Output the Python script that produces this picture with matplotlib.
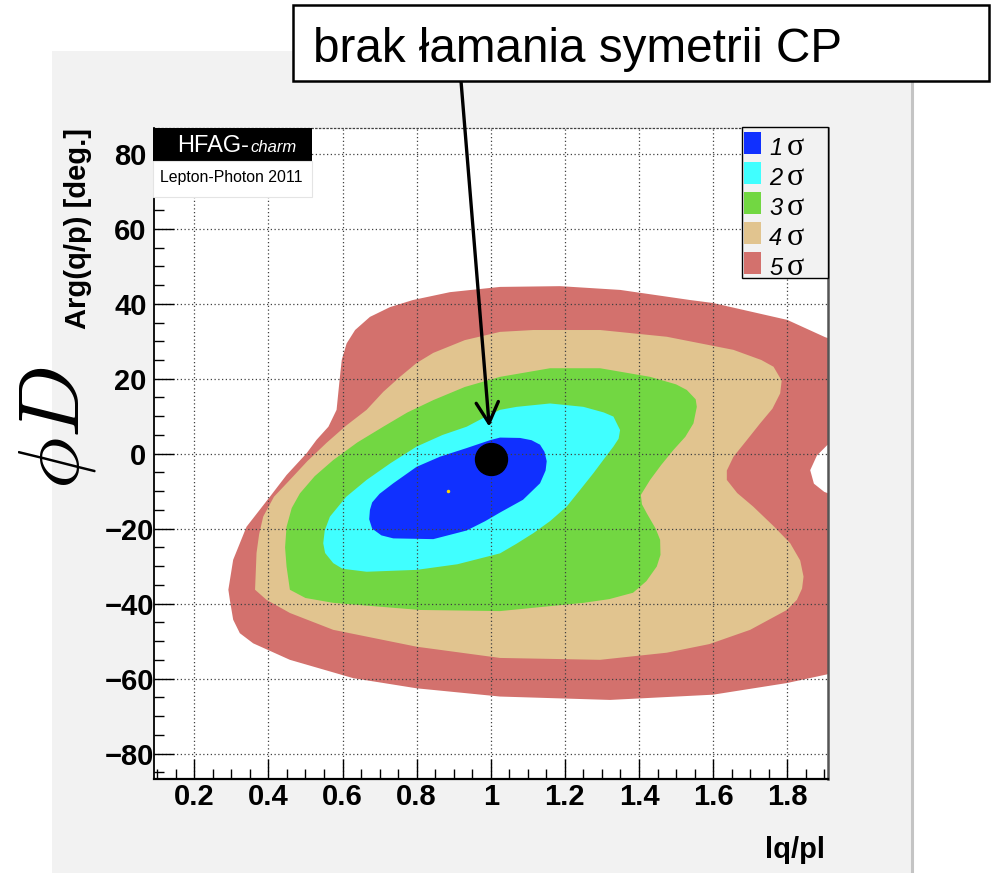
import numpy as np
import matplotlib.pyplot as plt
from matplotlib.patches import Rectangle
from matplotlib.lines import Line2D
from matplotlib.ticker import MultipleLocator
from matplotlib.transforms import ScaledTranslation

plt.rcParams['font.family'] = ['Liberation Sans', 'DejaVu Sans']

W, H = 991, 873

# confidence regions in the (|q/p|, Arg(q/p)) plane, outermost first
sigma_labels = ['1', '2', '3', '4', '5']
sigma_colors = ['#1030ff', '#40ffff', '#72d742', '#e1c48f', '#d3716d']

c5_x = [0.611, 0.634, 0.674, 0.728, 0.790, 0.890, 1.025, 1.187, 1.349, 1.538, 1.600,
        1.800, 1.902, 1.950, 1.950, 1.908, 1.880, 1.862, 1.872, 1.900, 1.950, 1.950,
        1.902, 1.799, 1.600, 1.322, 1.025, 0.800, 0.629, 0.458, 0.359, 0.323, 0.305,
        0.296, 0.292, 0.305, 0.323, 0.341, 0.404, 0.449, 0.503, 0.530, 0.562, 0.584,
        0.593, 0.598]
c5_y = [29.4, 33.0, 36.5, 39.1, 41.0, 43.1, 44.5, 44.7, 43.7, 41.0, 40.2,
        35.7, 31.1, 29.5, 3.5, 2.3, -0.5, -4.4, -8.0, -10.2, -12.0, -58.0,
        -59.0, -61.2, -64.3, -65.7, -64.8, -62.6, -59.9, -55.0, -50.6, -47.9, -44.3,
        -39.0, -36.3, -28.3, -23.9, -19.5, -11.5, -5.7, 0.1, 3.7, 7.2, 11.7,
        20.5, 25.0]

c4_x = [0.364, 0.366, 0.368, 0.375, 0.386, 0.415, 0.458, 0.505, 0.557, 0.610, 0.665,
        0.710, 0.755, 0.800, 0.845, 0.930, 1.025, 1.115, 1.295, 1.475, 1.655, 1.730,
        1.763, 1.785, 1.781, 1.760, 1.727, 1.690, 1.655, 1.637, 1.637, 1.665, 1.708,
        1.765, 1.808, 1.835, 1.844, 1.840, 1.826, 1.799, 1.700, 1.590, 1.475, 1.295,
        1.025, 0.800, 0.575, 0.458, 0.395]
c4_y = [-36.3, -31.5, -26.5, -21.5, -16.8, -11.5, -7.0, -2.0, 2.9, 7.5, 11.7,
        16.5, 20.5, 24.2, 26.9, 30.3, 32.5, 33.0, 33.0, 31.2, 27.7, 25.0,
        23.2, 19.5, 16.1, 12.0, 8.1, 3.5, -0.8, -4.5, -7.0, -10.5, -14.1,
        -19.5, -23.9, -28.5, -32.8, -36.0, -39.0, -41.7, -47.0, -50.8, -53.1, -55.0,
        -54.5, -51.5, -47.0, -42.5, -39.0]

c3_x = [0.458, 0.449, 0.445, 0.449, 0.463, 0.485, 0.525, 0.575, 0.640, 0.710, 0.775,
        0.845, 0.930, 1.025, 1.160, 1.295, 1.430, 1.500, 1.529, 1.553, 1.556, 1.547,
        1.525, 1.493, 1.460, 1.430, 1.405, 1.408, 1.421, 1.445, 1.457, 1.458, 1.448,
        1.420, 1.384, 1.320, 1.250, 1.025, 0.809, 0.575, 0.500]
c3_y = [-36.3, -30.1, -25.0, -19.5, -14.5, -10.6, -6.0, -1.7, 3.0, 7.2, 11.0,
        14.3, 17.8, 20.5, 22.8, 22.8, 20.5, 18.5, 17.0, 14.5, 12.5, 8.1,
        4.5, 1.0, -3.0, -7.0, -11.0, -13.5, -15.9, -20.0, -23.0, -27.0, -30.1,
        -34.0, -37.1, -38.8, -39.8, -42.0, -41.7, -39.8, -38.5]

c2_x = [0.665, 0.600, 0.575, 0.553, 0.548, 0.552, 0.566, 0.610, 0.665, 0.730, 0.800,
        0.870, 0.935, 0.985, 1.025, 1.070, 1.160, 1.250, 1.305, 1.331, 1.349, 1.345,
        1.331, 1.305, 1.277, 1.240, 1.205, 1.160, 1.115, 1.070, 1.025, 0.910, 0.800]
c2_y = [-31.5, -30.7, -29.2, -26.5, -23.9, -20.5, -16.8, -11.5, -7.0, -2.5, 1.9,
        5.0, 7.2, 9.8, 11.7, 12.5, 13.4, 12.5, 11.0, 9.9, 6.3, 4.0,
        1.9, -1.5, -5.2, -9.8, -14.1, -18.0, -21.2, -24.0, -26.6, -29.5, -31.0]

c1_x = [0.674, 0.672, 0.680, 0.705, 0.737, 0.845, 0.935, 0.985, 1.025, 1.087, 1.133,
        1.148, 1.151, 1.145, 1.133, 1.110, 1.079, 1.025, 0.998, 0.935, 0.863, 0.800,
        0.737, 0.700, 0.680]
c1_y = [-15.0, -17.5, -20.0, -21.8, -22.6, -22.8, -20.5, -18.0, -15.7, -12.3, -7.9,
        -4.5, -2.0, 0.5, 2.4, 3.6, 4.2, 4.3, 3.6, 1.5, -0.8, -3.5,
        -7.9, -10.7, -13.0]

contours_x = [c1_x, c2_x, c3_x, c4_x, c5_x]
contours_y = [c1_y, c2_y, c3_y, c4_y, c5_y]

best_fit = (0.885, -10.0)
no_cpv = (1.0, -1.4)

x_ticks = [0.2, 0.4, 0.6, 0.8, 1.0, 1.2, 1.4, 1.6, 1.8]
x_tick_labels = ['0.2', '0.4', '0.6', '0.8', '1', '1.2', '1.4', '1.6', '1.8']
y_ticks = [-80, -60, -40, -20, 0, 20, 40, 60, 80]
y_tick_labels = ['\u221280', '\u221260', '\u221240', '\u221220', '0', '20', '40', '60', '80']


def fx(px):
    return px / W


def fy(py):
    return 1 - py / H


fig = plt.figure(figsize=(W / 100, H / 100), dpi=100)

# grey canvas behind the frame
fig.patches.append(Rectangle((fx(52), 0), fx(912) - fx(52), fy(51), transform=fig.transFigure,
                             facecolor='#f2f2f2', edgecolor='none', zorder=-2))
fig.lines.append(Line2D([fx(912), fx(912)], [0, fy(51)], transform=fig.transFigure,
                        color='#c4c4c4', lw=2.2, zorder=-1))

ax = fig.add_axes([fx(153.5), fy(779), fx(828) - fx(153.5), fy(128) - fy(779)])
ax.set_facecolor('white')

for xs, ys, col in zip(contours_x[::-1], contours_y[::-1], sigma_colors[::-1]):
    ax.fill(xs, ys, color=col, lw=0, zorder=1)

ax.plot(*best_fit, 'o', ms=2.5, color='#ffd400', mec='none', zorder=4)
ax.plot(*no_cpv, 'o', ms=23, color='black', zorder=5)

ax.set_xlim(0.09, 1.91)
ax.set_ylim(-86.8, 86.9)
ax.set_xticks(x_ticks, labels=x_tick_labels, fontsize=21, fontweight='bold')
ax.set_yticks(y_ticks, labels=y_tick_labels, fontsize=21, fontweight='bold')
ax.xaxis.set_minor_locator(MultipleLocator(0.05))
ax.yaxis.set_minor_locator(MultipleLocator(5))
ax.tick_params(which='both', direction='in', top=False, right=False, width=1, color='black')
ax.tick_params(which='major', length=14.4)
ax.tick_params(which='minor', length=7.2)
ax.tick_params(axis='x', pad=3)
ax.tick_params(axis='y', pad=5)

# negative labels sit a bit further right
shift = ScaledTranslation(8 / 100, 0, fig.dpi_scale_trans)
for lbl in ax.get_yticklabels():
    if lbl.get_text().startswith('\u2212'):
        lbl.set_transform(lbl.get_transform() + shift)

ax.grid(True, which='major', color='#404040', linestyle=(0, (1, 2)), linewidth=0.9)
ax.spines['left'].set_linewidth(1.3)
ax.spines['bottom'].set_linewidth(1.6)
ax.spines['right'].set_color('#555555')
ax.spines['right'].set_linewidth(1.8)
ax.spines['top'].set_color('#404040')
ax.spines['top'].set_linestyle((0, (1, 2)))
ax.spines['top'].set_linewidth(0.9)

# axis titles
fig.text(fx(825), fy(858), 'lq/pl', ha='right', va='baseline', fontsize=21, fontweight='bold')
fig.text(fx(78.5), fy(128), 'Arg(q/p) [deg.]', rotation=90, ha='center', va='top',
         fontsize=21, fontweight='bold')
fig.text(fx(58), fy(428), r'$\phi D$', rotation=90, ha='center', va='center',
         fontsize=62, math_fontfamily='cm')

# HFAG stamp
fig.patches.append(Rectangle((fx(152.7), fy(160.7)), fx(311.7) - fx(152.7), fy(128.3) - fy(160.7),
                             transform=fig.transFigure, facecolor='black', edgecolor='none'))
fig.patches.append(Rectangle((fx(152.7), fy(196.7)), fx(311.7) - fx(152.7), fy(160.7) - fy(196.7),
                             transform=fig.transFigure, facecolor='white', edgecolor='#e4e4e4', lw=0.8))
fig.text(fx(176.7), fy(151.7), 'HFAG-', color='white', fontsize=17, va='baseline')
fig.text(fx(250), fy(151.7), 'charm', color='white', fontsize=12, style='italic', va='baseline')
fig.text(fx(160), fy(181.7), 'Lepton-Photon 2011', fontsize=11.4, va='baseline')

# legend
fig.patches.append(Rectangle((fx(741.7), fy(278.3)), fx(827.7) - fx(741.7), fy(127.3) - fy(278.3),
                             transform=fig.transFigure, facecolor='#f2f2f2', edgecolor='black', lw=1))
for i, (lab, col) in enumerate(zip(sigma_labels, sigma_colors)):
    top = 132.3 + 30 * i
    fig.patches.append(Rectangle((fx(744), fy(top + 22)), fx(760.7) - fx(744), fy(top) - fy(top + 22),
                                 transform=fig.transFigure, facecolor=col, edgecolor='none'))
    fig.text(fx(769), fy(top + 23), lab, style='italic', fontsize=17, va='baseline')
    fig.text(fx(787), fy(top + 23), '\u03c3', family=['Liberation Serif', 'DejaVu Serif'],
             fontsize=23, va='baseline')

# callout
fig.patches.append(Rectangle((fx(293), fy(81)), fx(989) - fx(293), fy(5) - fy(81),
                             transform=fig.transFigure, facecolor='white', edgecolor='black', lw=1.8))
fig.text(fx(313), fy(62), 'brak \u0142amania symetrii CP', fontsize=34.3, va='baseline')
ax.annotate('', xy=(0.996, 7.2), xycoords='data',
            xytext=(fx(461), fy(81)), textcoords='figure fraction',
            arrowprops=dict(arrowstyle='->,head_length=1.5,head_width=0.8', lw=2.4,
                            color='black', shrinkA=0, shrinkB=0),
            annotation_clip=False, zorder=6)

fig.savefig('out.png', dpi=100)
